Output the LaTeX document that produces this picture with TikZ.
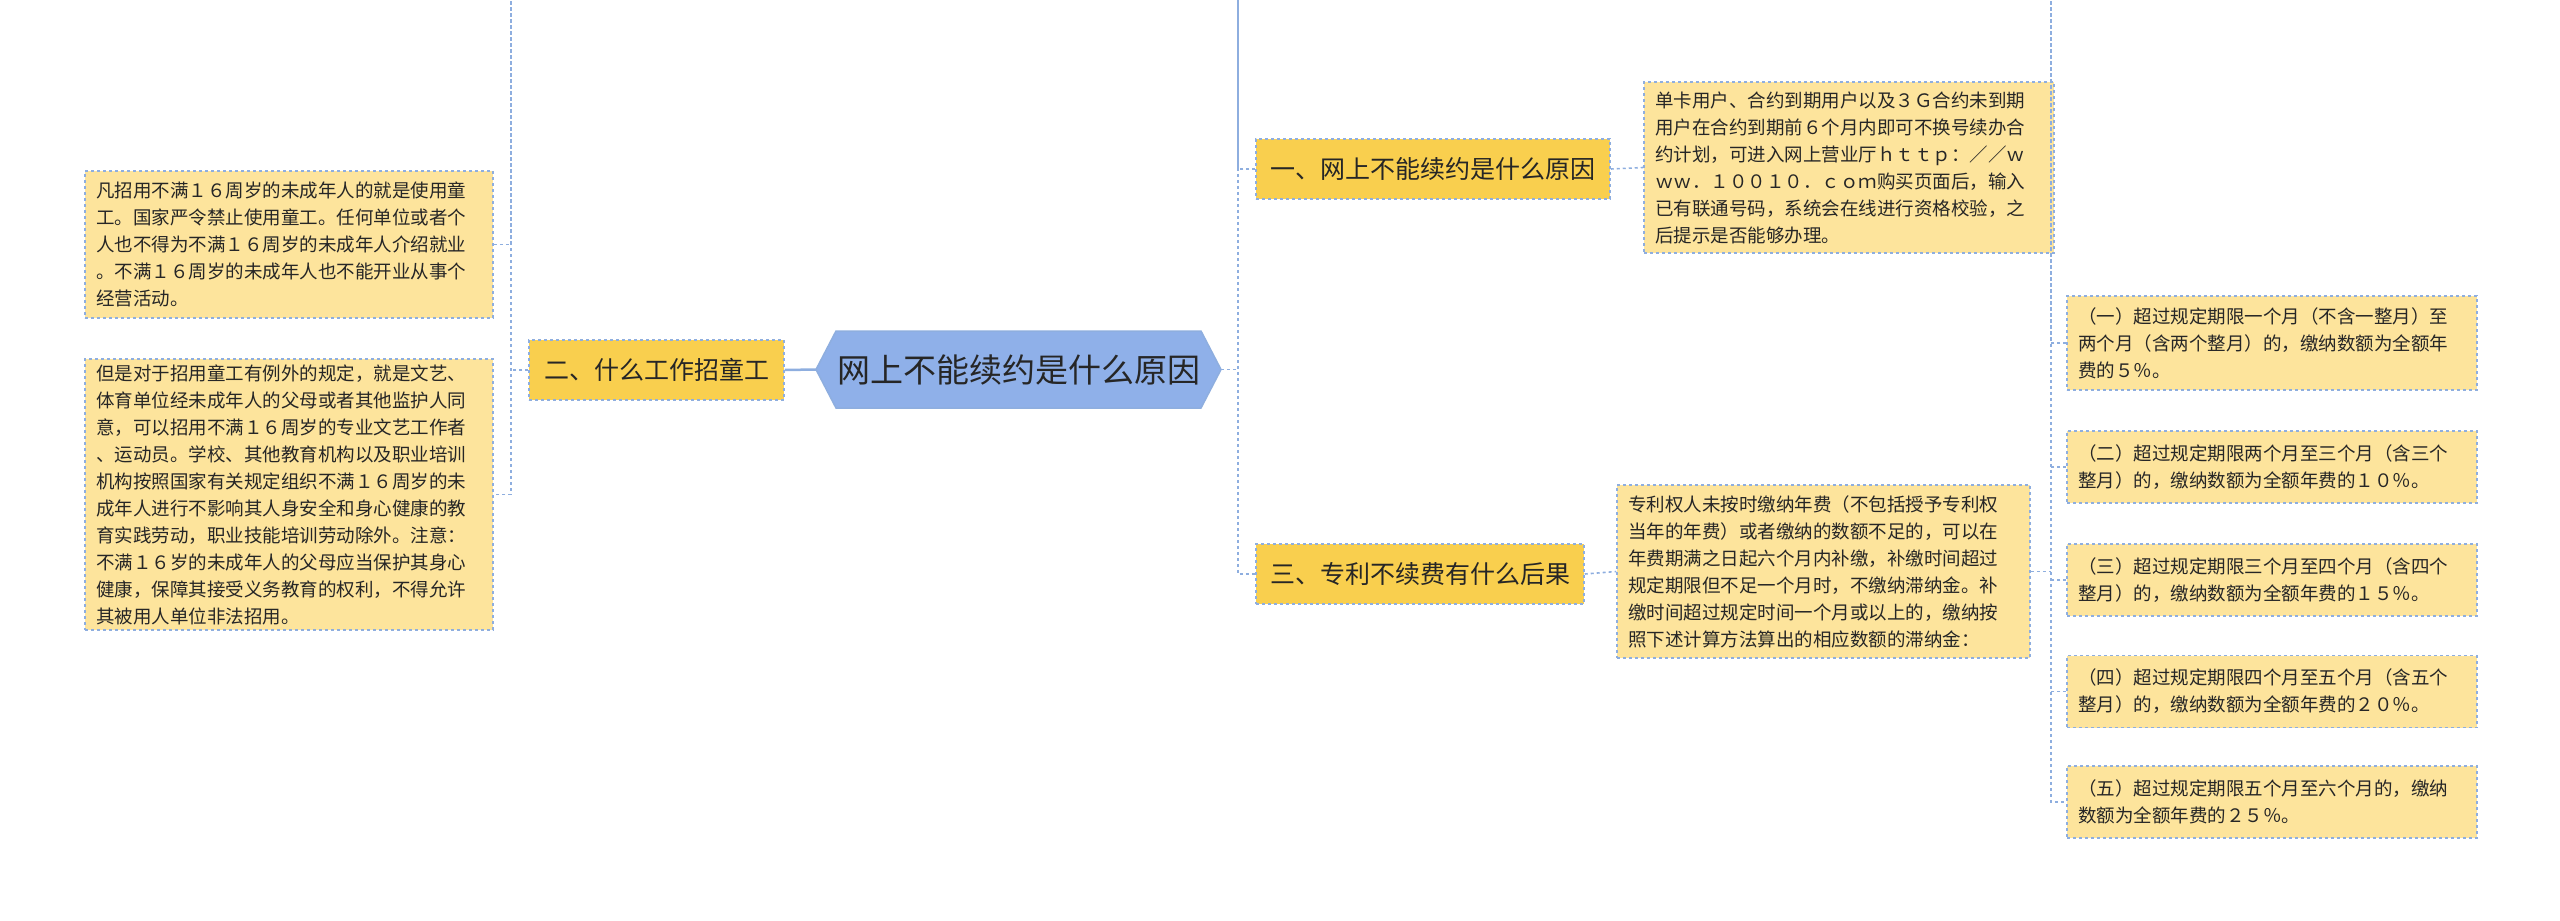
\documentclass[tikz,border=0pt]{standalone}
\usepackage{fontspec}
\setmainfont{Noto Sans CJK SC}
\usetikzlibrary{positioning}
\definecolor{bord}{HTML}{8EAEDF}
\definecolor{br}{HTML}{F9CF4E}
\definecolor{lf}{HTML}{FDE49C}
\definecolor{rootc}{HTML}{8FB0E9}
\tikzset{
 every node/.style={inner sep=0pt},
 branch/.style={draw=bord,dashed,line width=1.5pt,fill=br,font=\fontsize{25}{30}\selectfont,text=black!85},
 leaf/.style={draw=bord,dashed,line width=1.5pt,fill=lf,font=\fontsize{18.5}{27}\selectfont,align=left,text=black!85},
 conn/.style={draw=bord,dashed,line width=1.6pt},
}
\newcommand{\bx}[6]{% name style x1 y1 x2 y2 text
}
\begin{document}
\begin{tikzpicture}[x=1pt,y=-1pt]
\useasboundingbox (0,0) rectangle (2560,921);
% root
\node[draw=none,fill=rootc,minimum width=405pt,minimum height=77pt,
  font=\fontsize{33}{38}\selectfont,text=black!85] (root) at (1018.5,369.5) {网上不能续约是什么原因};
\fill[white] (816,331) -- (836,331) -- (816,369.5) -- cycle (816,408) -- (836,408) -- (816,369.5) -- cycle
  (1221,331) -- (1201,331) -- (1221,369.5) -- cycle (1221,408) -- (1201,408) -- (1221,369.5) -- cycle;
\draw[bord,line width=1.5pt] (836,331) -- (1201,331) -- (1221,369.5) -- (1201,408) -- (836,408) -- (816,369.5) -- cycle;
% branches
\node[branch,minimum width=255pt,minimum height=60pt] (b2) at (656.5,370) {二、什么工作招童工};
\node[branch,minimum width=354pt,minimum height=60pt] (b1) at (1433,169) {一、网上不能续约是什么原因};
\node[branch,minimum width=328pt,minimum height=60pt] (b3) at (1420,574) {三、专利不续费有什么后果};
% left leaves
\node[leaf,minimum width=408pt,minimum height=147pt,text width=386pt] (l1) at (289,244.5) {凡招用不满１６周岁的未成年人的就是使用童\\工。国家严令禁止使用童工。任何单位或者个\\人也不得为不满１６周岁的未成年人介绍就业\\。不满１６周岁的未成年人也不能开业从事个\\经营活动。};
\node[leaf,minimum width=408pt,minimum height=271pt,text width=386pt] (l2) at (289,494.5) {但是对于招用童工有例外的规定，就是文艺、\\体育单位经未成年人的父母或者其他监护人同\\意，可以招用不满１６周岁的专业文艺工作者\\、运动员。学校、其他教育机构以及职业培训\\机构按照国家有关规定组织不满１６周岁的未\\成年人进行不影响其人身安全和身心健康的教\\育实践劳动，职业技能培训劳动除外。注意：\\不满１６岁的未成年人的父母应当保护其身心\\健康，保障其接受义务教育的权利，不得允许\\其被用人单位非法招用。};
% right leaves
\node[leaf,minimum width=410pt,minimum height=171pt,text width=388pt] (r1) at (1849,167.5) {单卡用户、合约到期用户以及３Ｇ合约未到期\\用户在合约到期前６个月内即可不换号续办合\\约计划，可进入网上营业厅ｈｔｔｐ：／／ｗ\\ｗｗ．１００１０．ｃｏｍ购买页面后，输入\\已有联通号码，系统会在线进行资格校验，之\\后提示是否能够办理。};
\node[leaf,minimum width=413pt,minimum height=173pt,text width=391pt] (r3) at (1823.5,571.5) {专利权人未按时缴纳年费（不包括授予专利权\\当年的年费）或者缴纳的数额不足的，可以在\\年费期满之日起六个月内补缴，补缴时间超过\\规定期限但不足一个月时，不缴纳滞纳金。补\\缴时间超过规定时间一个月或以上的，缴纳按\\照下述计算方法算出的相应数额的滞纳金：};
\node[leaf,minimum width=410pt,minimum height=94pt,text width=388pt] (p1) at (2272,343) {（一）超过规定期限一个月（不含一整月）至\\两个月（含两个整月）的，缴纳数额为全额年\\费的５％。};
\node[leaf,minimum width=410pt,minimum height=72pt,text width=388pt] (p2) at (2272,467) {（二）超过规定期限两个月至三个月（含三个\\整月）的，缴纳数额为全额年费的１０％。};
\node[leaf,minimum width=410pt,minimum height=72pt,text width=388pt] (p3) at (2272,580) {（三）超过规定期限三个月至四个月（含四个\\整月）的，缴纳数额为全额年费的１５％。};
\node[leaf,minimum width=410pt,minimum height=72pt,text width=388pt] (p4) at (2272,691.5) {（四）超过规定期限四个月至五个月（含五个\\整月）的，缴纳数额为全额年费的２０％。};
\node[leaf,minimum width=410pt,minimum height=72pt,text width=388pt] (p5) at (2272,802) {（五）超过规定期限五个月至六个月的，缴纳\\数额为全额年费的２５％。};
% connectors
\draw[bord,line width=2.5pt] (root.west) -- (b2.east);
\coordinate (sR) at (1238,0);
\draw[conn] (root.east) -- (sR |- root.east);
\draw[conn] (b1.west) -| (sR) |- (b3.west);
\coordinate (sL) at (511,0);
\draw[conn] (b2.west) -- (sL |- b2.west);
\draw[conn] (l1.east) -| (sL) |- (l2.east);
\draw[conn] (b1.east) -- (r1.west);
\draw[conn] (b3.east) -- (r3.west);
\coordinate (sP) at (2051,0);
\draw[conn] (r3.east) -- (sP |- r3.east);
\draw[conn] (p1.west) -| (sP) |- (p5.west);
\foreach \p in {p2,p3,p4} \draw[conn] (\p.west) -- (sP |- \p.west);
\end{tikzpicture}
\end{document}
